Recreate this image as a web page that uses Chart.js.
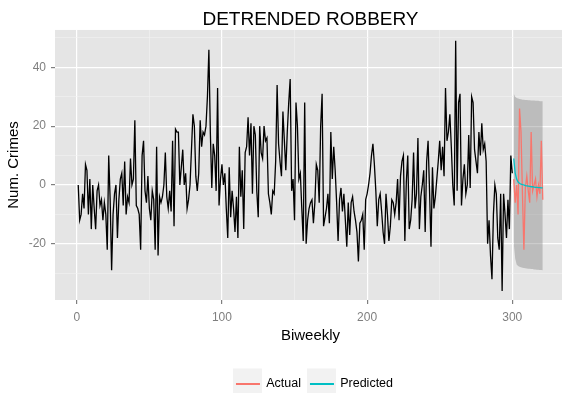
<!DOCTYPE html>
<html><head><meta charset="utf-8">
<script src="https://cdn.jsdelivr.net/npm/chart.js@4.4.1/dist/chart.umd.min.js"></script>
<style>
html,body{margin:0;padding:0;background:#fff;overflow:hidden;width:562px;height:393px}
#wrap{width:566px;height:393px;position:relative}
canvas{display:block}
</style></head><body>
<div id="wrap"><canvas id="c" width="566" height="393"></canvas></div>
<script>
const titleText = 'DETRENDED ROBBERY';
const xTitle = 'Biweekly';
const yTitle = 'Num. Crimes';
const xMajorTicks = [0, 100, 200, 300];
const xMinorTicks = [50, 150, 250];
const yMajorTicks = [-20, 0, 20, 40];
const yMinorTicks = [-30, -10, 10, 30, 50];
const legendNames = ['Actual', 'Predicted'];

const historyStart = 1;
const detrended = [
  0,-12,-10,-3,-8,7,5,-10,2,-15,
  0,-8,-15,-2,0,-7,-5,-12,-6,-10,
  -22,10,-5,-29,-10,-3,0,-18,-5,2,
  4,-7,8,-10,-4,-6,9,0,2,22,
  -7,-8,-10,-22,10,15,-2,-6,3,-8,
  -12,-2,-5,-22,13,-24,-4,-6,-4,0,
  11,-4,-8,-2,-9,15,-14,19,18,18,
  0,6,12,0,4,-8,-5,0,12,24,
  20,3,-2,4,22,13,18,17,20,30,
  46,18,-1,14,10,-2,33,-7,2,7,
  0,4,-8,-18,6,-11,-2,-8,-16,-4,
  -18,13,-4,5,-15,11,13,23,10,21,
  -3,20,17,-2,-11,20,11,9,20,15,
  16,-3,-6,-10,-2,-3,8,34,14,8,
  3,25,15,5,18,28,36,-2,2,-12,
  28,20,2,4,-8,-19,28,-20,-12,-8,
  -6,-5,-13,-6,7,5,-6,20,31,-14,
  -11,-8,-3,-13,18,2,13,5,-6,-19,
  -5,-1,-9,-3,-12,-21,-6,-17,-6,-4,
  -9,-12,-16,-26,-13,-12,-10,-22,-5,-3,
  0,4,10,14,7,-2,-14,-5,-3,-9,
  -16,-20,-3,-10,-19,-14,-5,-6,-10,-6,
  2,-12,3,8,10,-19,1,10,-15,-12,
  -5,11,-8,-3,16,-15,-4,0,5,-16,
  8,15,-2,-21,6,-8,-4,2,8,15,
  5,13,3,33,15,18,24,13,0,-7,
  49,-2,28,31,-7,2,7,-3,0,17,
  -1,30,28,12,8,4,18,10,21,12,
  14,8,-20,-12,-24,-32,-10,0,-3,-18,
  -22,-3,-36,-3,-10,-18,-5,-15,10,4
];

const forecastStart = 301;
const actual = [2,-6,0,-10,26,18,-3,-22,-1,3,-2,-6,18,-2,0,2,-4,0,-3,15,-5];
const predicted = [9,4,2,1,0.5,0.3,0.1,0,-0.2,-0.3,-0.4,-0.5,-0.6,-0.6,-0.7,-0.8,-0.8,-0.9,-0.9,-1,-1];
const upper = [31,30,29.6,29.4,29.2,29.1,29,29,28.9,28.9,28.8,28.8,28.7,28.7,28.7,28.6,28.6,28.6,28.5,28.5,28.5];
const lower = [-20,-25,-27,-27.5,-27.8,-28,-28.1,-28.2,-28.3,-28.4,-28.5,-28.5,-28.6,-28.6,-28.7,-28.7,-28.8,-28.8,-28.9,-28.9,-29];

const toPoints = (start, vals) => vals.map((v, i) => ({x: start + i, y: v}));

const FONT = "'Liberation Sans', Arial, Helvetica, sans-serif";
Chart.defaults.font.family = FONT;
const RED = '#F8766D', TEAL = '#00BFC4';
const legendPad = 9, legendFont = 12.5;

const ggPanel = {
  id: 'ggPanel',
  afterLayout(chart) {
    const lg = chart.legend;
    if (!lg) return;
    const dx = 4;
    const dy = 384 - (lg.top + legendPad + legendFont / 2);
    lg.left += dx; lg.right += dx; lg.top += dy; lg.bottom += dy;
  },
  beforeDraw(chart) {
    const {ctx, chartArea: a} = chart;
    ctx.save();
    ctx.fillStyle = '#E5E5E5';
    ctx.fillRect(a.left, a.top, a.right - a.left, a.bottom - a.top);
    const lg = chart.legend;
    if (lg && lg.lineWidths && lg.legendHitBoxes) {
      let x = (lg.left + legendPad + lg.right - lg.lineWidths[0]) / 2;
      const cy = lg.top + legendPad + legendFont / 2;
      ctx.fillStyle = '#F2F2F2';
      lg.legendHitBoxes.forEach(h => {
        ctx.fillRect(x - 3, cy - 15.5, 29, 31);
        x += h.width + legendPad;
      });
    }
    ctx.restore();
  }
};

const isMajorX = c => c.tick && xMajorTicks.includes(c.tick.value);
const isMajorY = c => c.tick && yMajorTicks.includes(c.tick.value);

new Chart(document.getElementById('c'), {
  type: 'line',
  data: {
    datasets: [
      {label: 'Actual', data: toPoints(forecastStart, actual), borderColor: RED, borderWidth: 1.3, pointRadius: 0, tension: 0, fill: false, order: 2},
      {label: 'Predicted', data: toPoints(forecastStart, predicted), borderColor: TEAL, borderWidth: 1.3, pointRadius: 0, tension: 0, fill: false, order: 1},
      {label: 'Detrended', data: toPoints(historyStart, detrended), borderColor: '#000000', borderWidth: 1.3, pointRadius: 0, tension: 0, fill: false, order: 3},
      {label: 'Upper', data: toPoints(forecastStart, upper), borderWidth: 0, borderColor: 'rgba(0,0,0,0)', backgroundColor: 'rgba(120,120,120,0.38)', pointRadius: 0, tension: 0, fill: '+1', order: 10},
      {label: 'Lower', data: toPoints(forecastStart, lower), borderWidth: 0, borderColor: 'rgba(0,0,0,0)', pointRadius: 0, tension: 0, fill: false, order: 11}
    ]
  },
  options: {
    responsive: false,
    animation: false,
    devicePixelRatio: 1,
    layout: {padding: 0},
    plugins: {
      title: {display: true, text: titleText, color: '#000', fullSize: false,
        font: {size: 19, weight: 'normal', lineHeight: 1.05}, padding: {top: 10, bottom: 0}},
      legend: {
        display: true, position: 'bottom', fullSize: false,
        labels: {
          boxWidth: 24, boxHeight: 2, padding: legendPad, color: '#000',
          font: {size: legendFont},
          generateLabels: () => legendNames.map((n, i) => ({
            text: n, fillStyle: i === 0 ? RED : TEAL, strokeStyle: i === 0 ? RED : TEAL,
            lineWidth: 0, hidden: false, datasetIndex: i, fontColor: '#000'
          }))
        },
        onClick: null
      },
      tooltip: {enabled: false}
    },
    scales: {
      x: {
        type: 'linear', min: -15, max: 337,
        afterBuildTicks: s => { s.ticks = [...xMajorTicks, ...xMinorTicks].sort((a, b) => a - b).map(v => ({value: v})); },
        afterFit: s => { s.height = 61.5; },
        border: {display: false},
        grid: {
          color: c => isMajorX(c) ? '#FFFFFF' : '#F2F2F2',
          lineWidth: c => isMajorX(c) ? 1.2 : 0.6,
          tickColor: c => isMajorX(c) ? '#7F7F7F' : 'rgba(0,0,0,0)',
          tickLength: 4, drawTicks: true
        },
        ticks: {
          autoSkip: false, maxRotation: 0, padding: 6, color: '#7F7F7F', font: {size: 12},
          callback: v => xMajorTicks.includes(v) ? String(v) : ''
        },
        title: {display: true, text: xTitle, color: '#000', font: {size: 15}, padding: {top: 0, bottom: 16.5}}
      },
      y: {
        type: 'linear', min: -39.1, max: 52.7,
        afterBuildTicks: s => { s.ticks = [...yMajorTicks, ...yMinorTicks].sort((a, b) => a - b).map(v => ({value: v})); },
        afterFit: s => { s.width = 55; },
        border: {display: false},
        grid: {
          color: c => isMajorY(c) ? '#FFFFFF' : '#F2F2F2',
          lineWidth: c => isMajorY(c) ? 1.2 : 0.6,
          tickColor: c => isMajorY(c) ? '#7F7F7F' : 'rgba(0,0,0,0)',
          tickLength: 4, drawTicks: true
        },
        ticks: {
          autoSkip: false, padding: 5, color: '#7F7F7F', font: {size: 12},
          callback: v => yMajorTicks.includes(v) ? String(v) : ''
        },
        title: {display: true, text: yTitle, color: '#000', font: {size: 15}, padding: {top: 5, bottom: 0}}
      }
    }
  },
  plugins: [ggPanel]
});
</script>
</body></html>
